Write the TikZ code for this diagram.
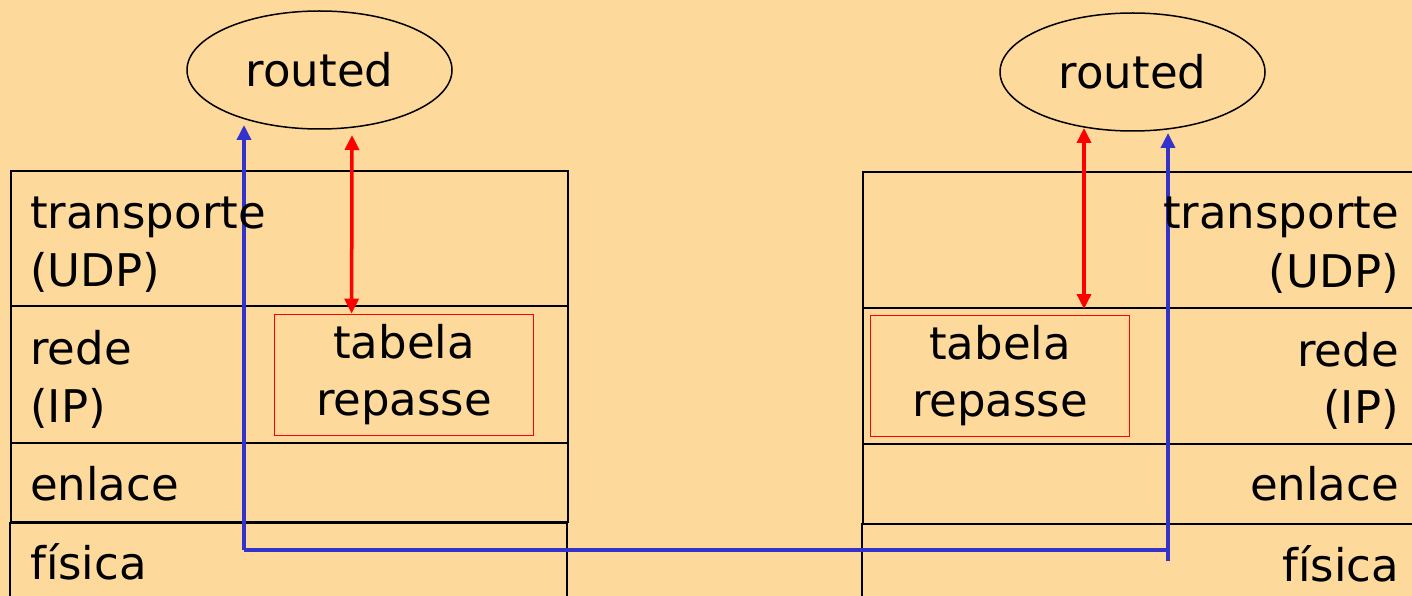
\documentclass[tikz,border=0pt]{standalone}
\usepackage{fontspec}
\setmainfont{DejaVu Sans}
\usetikzlibrary{arrows.meta,calc,positioning,shapes.geometric}
\definecolor{slidebg}{RGB}{253,217,155}
\definecolor{pathblue}{RGB}{51,51,204}
\tikzset{
  layer/.style={draw,line width=2pt,minimum width=557pt,anchor=north west,inner sep=0pt},
  lbl/.style={font=\fontsize{45}{58}\selectfont,inner sep=0pt},
  tabbox/.style={draw=red,line width=1.8pt,minimum width=259pt,minimum height=121pt,
    inner sep=0pt,align=center,font=\fontsize{45}{57}\selectfont,
    execute at begin node={\rule{0pt}{44pt}}},
  daemon/.style={ellipse,draw,line width=1.5pt,minimum width=265pt,minimum height=118pt,
    inner sep=0pt,font=\fontsize{45}{58}\selectfont},
  redarr/.style={red,line width=3.5pt,{Triangle[length=15pt,width=14pt]}-{Triangle[length=15pt,width=14pt]}},
  bluearr/.style={pathblue,line width=3.5pt,-{Triangle[length=15pt,width=14pt]}},
}

\begin{document}
\begin{tikzpicture}[x=1pt,y=-1pt]
  \useasboundingbox (0,0) rectangle (1412,596);
  \clip (0,0) rectangle (1412,596);
  \fill[slidebg] (0,0) rectangle (1412,596);

  % daemons
  \node[daemon] (Lrouted) at (319.5,70) {routed};
  \node[daemon] (Rrouted) at (1132.5,72) {routed};

  % left protocol stack
  \node[layer,minimum height=135pt] (Ltr) at (10,170) {};
  \node[layer,minimum height=137pt] (Lnet) at (10,305) {};
  \node[layer,minimum height=79pt] (Llink) at (10,442) {};
  \node[layer,minimum height=100pt] (Lphy) at (9,522) {};
  \node[tabbox] (Ltab) at (404,375) {tabela\\repasse};

  % right protocol stack
  \node[layer,minimum height=136pt] (Rtr) at (862,171) {};
  \node[layer,minimum height=136pt] (Rnet) at (862,307) {};
  \node[layer,minimum height=80pt] (Rlink) at (862,443) {};
  \node[layer,minimum height=100pt] (Rphy) at (861,523) {};
  \node[tabbox] (Rtab) at (1000,376) {tabela\\repasse};

  % ends of the connectors
  \coordinate (Lup) at (244,125);
  \coordinate (Ljoin) at (244,550);
  \coordinate (Rup) at (1168,133);
  \coordinate (Rdown) at (1168,561);
  \coordinate (LredTop) at (352,135);
  \coordinate (RredTop) at (1084,128);
  \coordinate (RredBot) at (1084,309);

  % path of the routing messages
  \draw[bluearr] (Ljoin) -- (Lup);
  \draw[pathblue,line width=3.5pt] (Ljoin) -- (Ljoin -| Rdown);
  \draw[bluearr] (Rdown) -- (Rup);

  % daemon <-> forwarding table
  \draw[redarr] (LredTop) -- ([xshift=78pt]Ltab.north west);
  \draw[redarr] (RredTop) -- (RredBot);

  % layer names, left
  \node[lbl,anchor=base west] (Lt1) at (30,228) {transporte};
  \node[lbl,anchor=base west] (Lt2) at (30,286) {(UDP)};
  \node[lbl,anchor=base west] (Ln1) at (30,364) {rede};
  \node[lbl,anchor=base west] (Ln2) at (30,422) {(IP)};
  \node[lbl,anchor=base west] (Ll1) at (30,500) {enlace};
  \node[lbl,anchor=base west] (Lp1) at (30,579) {física};

  % layer names, right
  \node[lbl,anchor=base east] (Rt1) at (1399,228) {transporte};
  \node[lbl,anchor=base east] (Rt2) at (1399,287) {(UDP)};
  \node[lbl,anchor=base east] (Rn1) at (1399,366) {rede};
  \node[lbl,anchor=base east] (Rn2) at (1399,423) {(IP)};
  \node[lbl,anchor=base east] (Rl1) at (1399,500) {enlace};
  \node[lbl,anchor=base east] (Rp1) at (1399,581) {física};
\end{tikzpicture}
\end{document}
